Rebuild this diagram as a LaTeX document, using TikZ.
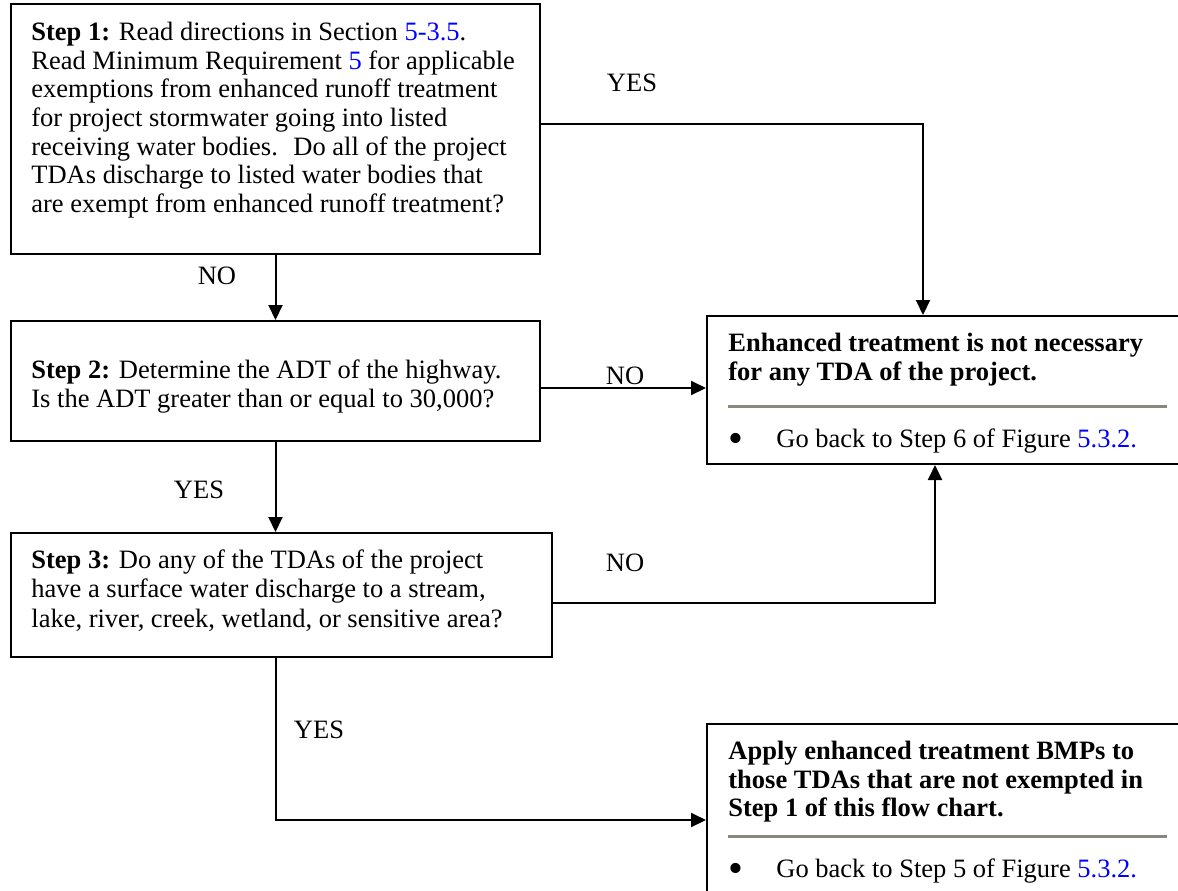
\documentclass[tikz,border=0pt]{standalone}
\usepackage{graphicx}
\usepackage{fontspec}
\setmainfont{Liberation Serif}
\usetikzlibrary{arrows.meta,calc}
\definecolor{linkblue}{RGB}{0,0,255}
\definecolor{rulegray}{RGB}{136,136,126}
\newcommand{\lnk}[1]{\textcolor{linkblue}{#1}}
\newcommand{\itemdot}{\makebox[24pt][l]{\raisebox{-0.2em}{\scalebox{1.6}{\textbullet}}}}
\begin{document}
\begin{tikzpicture}[x=0.5pt,y=-0.5pt,
  stepbox/.style={draw,line width=1pt,rectangle,inner sep=0pt,anchor=north west},
  body/.style={anchor=north west,inner sep=0pt,align=left,font=\fontsize{13.25pt}{14.35pt}\selectfont},
  boldbody/.style={body,font=\fontsize{13.25pt}{14.35pt}\selectfont\bfseries},
  lbl/.style={inner sep=0pt,font=\fontsize{13.25pt}{14.35pt}\selectfont},
  flow/.style={line width=1pt,-{Triangle[length=7.5pt,width=7pt]}},
  sep/.style={line width=1.5pt,rulegray}]
\useasboundingbox (0,0) rectangle (1178,890);
\clip (0,0) rectangle (1178,890);

% decision boxes
\node[stepbox,minimum width=264.5pt,minimum height=125pt] (b1) at (10,3) {};
\node[stepbox,minimum width=264.5pt,minimum height=60pt] (b2) at (10,320) {};
\node[stepbox,minimum width=270.5pt,minimum height=62pt] (b3) at (10,532) {};
% outcome boxes
\node[stepbox,minimum width=250pt,minimum height=74pt] (bA) at (706,315) {};
\node[stepbox,minimum width=250pt,minimum height=100pt] (bB) at (706,723) {};

% box texts
\node[body] (t1) at (31,20) {\strut\textbf{Step 1:} Read directions in Section \lnk{5-3.5}.\\
Read Minimum Requirement \lnk{5} for applicable\\
exemptions from enhanced runoff treatment\\
for project stormwater going into listed\\
receiving water bodies.~ Do all of the project\\
TDAs discharge to listed water bodies that\\
are exempt from enhanced runoff treatment?};
\node[body] (t2) at (31,358) {\strut\textbf{Step 2:} Determine the ADT of the highway.\\
Is the ADT greater than or equal to 30,000?};
\node[body,font=\fontsize{13.25pt}{14.8pt}\selectfont] (t3) at (31,547) {\strut\textbf{Step 3:} Do any of the TDAs of the project\\
have a surface water discharge to a stream,\\
lake, river, creek, wetland, or sensitive area?};
\node[boldbody] (tA) at (728,331) {\strut Enhanced treatment is not necessary\\
for any TDA of the project.};
\node[body] (tAb) at (728,427) {\strut\itemdot Go back to Step 6 of Figure \lnk{5.3.2.}};
\node[boldbody] (tB) at (728,739) {\strut Apply enhanced treatment BMPs to\\
those TDAs that are not exempted in\\
Step 1 of this flow chart.};
\node[body] (tBb) at (728,857) {\strut\itemdot Go back to Step 5 of Figure \lnk{5.3.2.}};

% separator rules
\draw[sep] (728,406) -- (1167,406);
\draw[sep] (728,836) -- (1167,836);

% connectors
\coordinate (o1) at ($(b1.east)+(0,-5)$);
\coordinate (aIn) at ($(bA.north west)+(217,0)$);
\draw[flow] (o1) -| (aIn);
\draw[flow] (b1.south) -- (b2.north);
\coordinate (o2) at ($(b2.east)+(0,7)$);
\draw[flow] (o2) -- (o2 -| bA.west);
\draw[flow] (b2.south) -- (b2.south |- b3.north);
\coordinate (o3) at ($(b3.east)+(0,8)$);
\coordinate (aOut) at ($(bA.south west)+(229,0)$);
\draw[flow] (o3) -| (aOut);
\coordinate (s3) at (b2.south |- b3.south);
\coordinate (bIn) at ($(bB.north west)+(0,97)$);
\draw[flow] (s3) |- (bIn);

% branch labels
\node[lbl] (l1) at (632,83) {YES};
\node[lbl] (l2) at (217,276) {NO};
\node[lbl] (l3) at (625,376) {NO};
\node[lbl] (l4) at (199,490) {YES};
\node[lbl] (l5) at (625,563) {NO};
\node[lbl] (l6) at (319,730) {YES};
\end{tikzpicture}
\end{document}
